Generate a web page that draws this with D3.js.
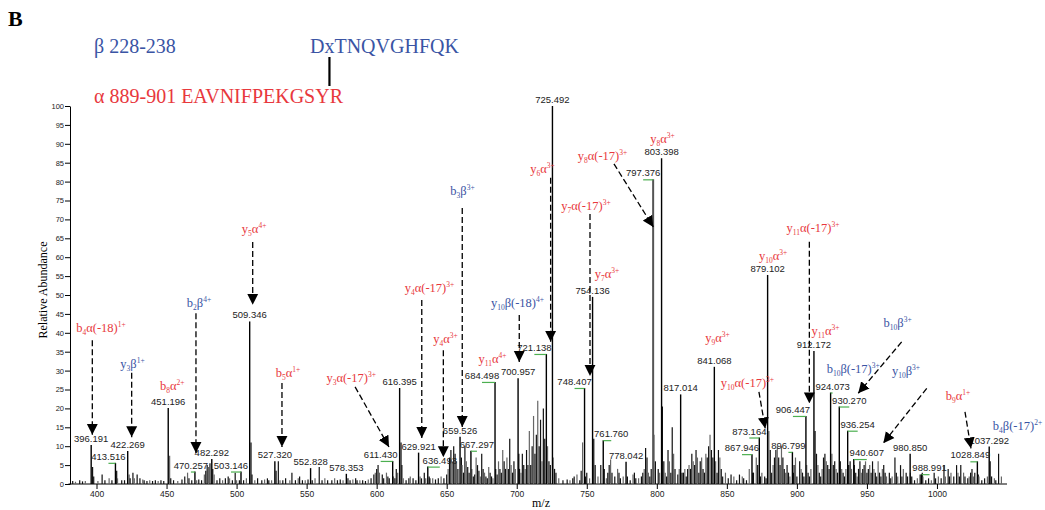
<!DOCTYPE html>
<html lang="en">
<head>
<meta charset="UTF-8">
<title>MS/MS spectrum</title>
<script src="https://d3js.org/d3.v7.min.js"></script>
<style>
  body { margin: 0; background: #fff; }
  .axis text { font-family: "Liberation Sans", Arial, sans-serif; fill: #222; }
  .axis path, .axis line { stroke: #000; }
</style>
</head>
<body>
<script>
    // labelled peaks (m/z, relative abundance)
    const peakMz = [396.191, 413.516, 422.269, 451.196, 470.257, 482.292, 503.146, 509.346, 527.320,
        552.828, 578.353, 611.430, 616.395, 629.921, 636.493, 659.526, 667.297, 684.498, 700.957,
        721.138, 725.492, 748.407, 754.136, 761.760, 778.042, 797.376, 803.398, 817.014, 841.068,
        867.946, 873.164, 879.102, 896.799, 906.447, 912.172, 924.073, 930.270, 936.254, 940.607,
        980.850, 988.991, 1028.849, 1037.292];
    const peakAbund = [10.3, 5.6, 8.7, 20.1, 3.3, 6.6, 3.3, 43, 6, 4.2, 2.7, 6.1, 25.4, 8.3, 4.6,
        12.5, 8.8, 27, 28, 34.4, 100, 25.4, 49.5, 11.6, 5.9, 80.6, 86.2, 23.7, 31, 7.9, 12.3,
        55.3, 8.5, 18, 35.2, 24.2, 20.5, 14.1, 6.6, 8, 2.6, 6, 9.9];

    // unlabelled peaks [m/z, relative abundance]
    const otherPeaks = [
        [383, 0.8], [385, 0.6], [388, 1], [390, 0.7], [392, 0.8], [397.2, 4.5], [398, 2], [401, 0.8],
        [404, 2.5], [406, 1], [409, 1.5], [411, 1], [414.4, 3.5], [415, 1.5], [418, 1], [420, 1],
        [423.3, 2.5], [424, 1.5], [426, 3], [427, 1.5], [429, 2.5], [431, 1.5], [433, 1.2], [434, 1],
        [436, 0.8], [438, 1], [440, 0.8], [442, 1], [444, 0.8], [446, 1], [448, 0.8],
        [452.2, 7.5], [453, 1.5], [455, 1], [458, 0.8], [461, 1.2], [463, 2], [465, 3], [466, 1.5],
        [468, 1], [471.5, 1], [473, 1.2], [475, 1], [477, 2.5], [478, 3.5], [479, 5], [480, 4.5],
        [481, 5.5], [483, 4], [484, 2.5], [486, 1], [488, 1.5], [490, 1], [492, 1.5], [494, 2],
        [495, 1.5], [497, 1], [499, 3], [500, 1], [502, 1], [505, 1], [507, 1.5], [510.3, 11],
        [511, 2.5], [513, 1], [515, 1.5], [518, 1], [520, 1.2], [522, 1.5], [523, 1], [525, 1],
        [528.2, 3.5], [529.8, 6], [531, 1], [533, 1], [535, 1.5], [538, 1], [539.5, 3], [542, 1],
        [544, 1.5], [545, 2], [547, 1], [549, 1], [551, 1.2], [554, 1], [556, 1.5], [559, 4.5],
        [561, 1], [563, 1.5], [565, 1], [568, 1], [570, 1.5], [572, 1], [574, 1.2], [576, 1],
        [579.5, 1.5], [581, 1], [583, 1.2], [585, 1.5], [586, 1], [588, 1], [590, 1], [592, 0.8],
        [594, 1.2], [596, 1.5], [598, 2.5], [599, 3], [600, 4], [601, 5], [602, 3], [604, 2.5],
        [605, 1.5], [607, 3], [608, 2], [609, 1.5], [612, 2], [613, 1.5], [614, 4], [615, 3],
        [617.4, 11], [618, 5], [619, 1.5], [621, 1], [623, 1.5], [624, 2], [626, 1.5], [628, 1],
        [631, 2], [632, 1.5], [634, 3], [635, 1.5], [637.5, 2], [638, 1.5], [640, 1.5], [642, 1.2],
        [644, 1.5], [646, 2], [648, 1.5], [650, 2.5], [651, 4], [652, 7], [653, 9], [654, 6],
        [655, 10], [656, 8], [657, 6], [658, 4], [660.5, 7], [661, 5], [662, 3], [663, 10],
        [664, 6], [665, 4.5], [666, 3], [668, 4], [669, 2], [670, 2.5], [671, 7], [672, 5],
        [673, 3.5], [674, 2], [675, 8], [676, 4], [677, 3], [678, 2], [679, 1.5], [680, 4.5],
        [681, 3], [682, 2], [683, 1.5], [685, 4], [686, 2.5], [687, 6], [688, 4], [689, 3],
        [690, 9], [691, 6], [692, 4], [693, 7], [694, 4], [695, 12], [696, 5], [697, 3], [698, 6],
        [699, 4], [701.5, 8], [702, 4], [703, 3], [704, 8], [705, 5], [706, 4], [707, 9], [708, 5],
        [709, 14], [710, 5], [711, 10], [712, 18], [713, 8], [714, 13], [715, 22], [716, 10],
        [717, 17], [718, 6], [719, 20], [720, 12], [722, 10], [723, 6], [724, 5], [726, 7],
        [727, 4], [728, 3], [730, 1.5], [733, 1], [736, 1.2], [738, 1], [740, 1.5], [741, 2],
        [743, 2.5], [745, 1], [746, 3.5], [747, 11], [749, 2], [750, 3], [752, 1.5], [755, 12],
        [756, 5], [758, 2], [760, 5], [762.5, 4], [764, 1.5], [765, 3], [766, 5], [767, 6.5],
        [768, 3], [770, 2], [772, 4], [773, 3], [774, 1.5], [776, 2], [779, 2], [781, 1],
        [783, 2.5], [784, 3], [785, 1.5], [787, 1.5], [789, 2], [790, 3], [791, 4], [792, 9.5],
        [793, 7], [794, 3], [795, 2], [796, 4], [798, 13], [799, 6], [801, 4], [802, 3],
        [804, 20.5], [805, 6], [806, 3], [807, 2], [808, 9], [809, 6], [810, 3], [811, 15],
        [812, 8], [813, 4], [815, 2.5], [816, 4], [818, 3], [819, 3], [820, 4], [821, 2], [822, 4],
        [823, 5], [824, 4], [825, 8], [826, 6], [827, 5], [828, 9], [829, 7], [830, 3], [831, 6],
        [832, 7], [833, 4], [834, 3], [835, 8], [836, 7], [837, 10], [838, 13], [839, 9],
        [840, 7], [842, 6], [843, 3], [844, 9], [845, 7], [846, 4], [847, 2], [849, 3],
        [851, 1.5], [853, 2.5], [855, 2], [857, 1], [859, 2.5], [861, 2], [862, 1.5], [864, 1],
        [866, 4], [868.5, 3], [869, 3], [871, 7], [872, 5], [874, 2], [875, 3], [877, 2],
        [878, 1.5], [880, 14], [881, 9], [882, 3], [883, 5], [884, 7], [885, 9], [886, 10],
        [887, 7], [888, 5], [889, 10], [890, 7], [891, 4], [892, 3], [893, 5], [894, 3], [895, 2],
        [897.5, 3], [898, 5], [899, 7], [900, 2], [902, 6], [903, 4], [904, 3], [905, 2],
        [907, 5], [908, 3], [909, 2], [910, 4], [913, 14], [914, 8], [915, 5], [916, 3], [917, 2],
        [918, 4], [919, 7], [920, 8], [921, 6], [922, 5], [923, 4], [925, 8], [926, 5], [927, 6],
        [928, 4], [929, 3], [931, 6], [932, 4], [933, 3], [934, 2], [935, 4], [937, 5], [938, 6],
        [939, 4], [941, 5], [942, 3], [943, 2], [944, 4], [945, 6], [946, 3], [947, 4], [948, 5],
        [949, 6], [950, 3], [951, 4], [952, 5], [953, 3], [954, 6], [955, 4], [956, 3], [957, 2],
        [958, 6], [959, 3], [960, 2], [961, 4], [962, 5], [963, 3], [964, 2], [966, 3],
        [967, 1.5], [968, 2], [970, 7], [971, 3], [972, 2], [974, 5], [975, 2], [976, 4],
        [978, 3], [979, 2], [981, 3], [982, 2], [984, 1], [986, 1.5], [988, 2.5], [989.5, 3],
        [990, 2], [992, 1], [994, 1.5], [996, 1], [998, 3], [999, 1.5], [1001, 2], [1003, 1.5],
        [1005, 5], [1006, 2], [1008, 4], [1009, 2], [1010, 3], [1012, 2], [1014, 5], [1015, 3],
        [1016, 2], [1017, 5], [1019, 3], [1020, 2], [1022, 1.5], [1023, 2], [1024, 3], [1025, 4],
        [1026, 2], [1027, 3], [1029.5, 2.5], [1030, 2], [1032, 1], [1034, 1.5], [1036, 2],
        [1038, 6], [1039, 2], [1041, 1.5], [1042, 1], [1044, 8], [1046, 2]
    ];

    // fragment ion annotations: name, chain, label position (m/z, abundance), arrow [m/z1, ab1, m/z2, ab2]
    const ionLabels = [
        ["b_4α(-18)^1+", "a", 403.2, 40.3, [397, 38, 397, 13]],
        ["y_3β^1+", "b", 425.7, 30.7, [425.1, 29.4, 425.1, 12.4]],
        ["b_8α^2+", "a", 454, 24.9, null],
        ["b_2β^4+", "b", 473.2, 46.8, [471, 45.2, 471, 8.2]],
        ["y_5α^4+", "a", 512.5, 66.4, [511.5, 64, 511.5, 47.4]],
        ["b_5α^1+", "a", 536.7, 28.3, [532.4, 26.7, 532.4, 9.8]],
        ["y_3α(-17)^3+", "a", 581.8, 27, [584.6, 25.7, 608.8, 9.8]],
        ["y_4α(-17)^3+", "a", 637.7, 50.8, [632.2, 48.7, 632.2, 12.2]],
        ["y_4α^3+", "a", 649.2, 37.3, [647.6, 35.4, 647.6, 7.1]],
        ["b_3β^3+", "b", 661.3, 76.5, [661.1, 73, 661.1, 15.1]],
        ["y_11α^4+", "a", 682.7, 32, null],
        ["y_10β(-18)^4+", "b", 700.5, 46.8, [701.8, 44.7, 701.8, 32.3]],
        ["y_6α^3+", "a", 718.4, 82.3, [724.2, 81, 724.2, 37.6]],
        ["y_7α(-17)^3+", "a", 749.4, 72.5, [752.3, 71.4, 752.3, 28.6]],
        ["y_7α^3+", "a", 764.4, 54.5, null],
        ["y_8α(-17)^3+", "a", 761.2, 85.7, [769.4, 84.7, 797.5, 68]],
        ["y_8α^3+", "a", 804, 90.2, null],
        ["y_9α^3+", "a", 843.3, 37.6, null],
        ["y_10α(-17)^3+", "a", 864.7, 25.7, [872.9, 24.4, 877.4, 14.7]],
        ["y_10α^3+", "a", 883, 59.3, null],
        ["y_11α(-17)^3+", "a", 911.5, 66.7, [908.9, 64.1, 908.9, 21.3]],
        ["y_11α^3+", "a", 920.4, 39.4, null],
        ["b_10β^3+", "b", 971.9, 41.6, [974.8, 37.6, 943.8, 24]],
        ["b_10β(-17)^3+", "b", 940.2, 29.3, null],
        ["y_10β^3+", "b", 977.9, 28.8, [992.7, 25.3, 961.7, 10.8]],
        ["b_9α^1+", "a", 1015, 22.2, [1020, 19.1, 1024.3, 9.4]],
        ["b_4β(-17)^2+", "b", 1057.5, 14.3, null]
    ];

    const xTicks = d3.range(400, 1001, 50);
    const yTicks = d3.range(0, 101, 5);

    // layout: horizontal shift (px) of peak labels drawn with a green leader
    const leaderOffset = {
        "413.516": -7, "470.257": -4, "503.146": -10, "611.430": -12, "636.493": 12,
        "667.297": 6, "684.498": -13, "721.138": -12, "748.407": -10, "761.760": 8,
        "797.376": -10, "867.946": -10, "873.164": -10, "896.799": -4, "906.447": -13,
        "924.073": 2, "930.270": 10, "936.254": 10, "940.607": 13, "988.991": 8, "1028.849": -7
    };

    const red = "#e8383d", blue = "#3a54a4";
    const serif = '"Liberation Serif", "Times New Roman", serif';
    const sans = '"Liberation Sans", Arial, sans-serif';

    const svg = d3.select("body").append("svg")
        .attr("width", 1045)
        .attr("height", 510);

    const x = d3.scaleLinear().domain([380, 1050]).range([68.5, 1007]);
    const y = d3.scaleLinear().domain([0, 100]).range([484, 106]);

    // arrow head
    svg.append("defs").append("marker")
        .attr("id", "arr")
        .attr("viewBox", "0 0 10 10")
        .attr("refX", 10).attr("refY", 5)
        .attr("markerWidth", 11).attr("markerHeight", 12)
        .attr("markerUnits", "userSpaceOnUse")
        .attr("orient", "auto")
        .append("path").attr("d", "M0,0L10,5L0,10z").attr("fill", "#000");

    // panel letter and peptide header
    svg.append("text").attr("x", 8).attr("y", 26)
        .attr("font-family", serif).attr("font-weight", "bold").attr("font-size", 22)
        .text("B");
    svg.append("text").attr("x", 94).attr("y", 53)
        .attr("font-family", serif).attr("font-size", 20).attr("fill", blue)
        .text("β 228-238");
    const betaSeq = svg.append("text").attr("x", 310).attr("y", 53)
        .attr("font-family", serif).attr("font-size", 20).attr("fill", blue)
        .text("DxTNQVGHFQK");
    svg.append("text").attr("x", 94).attr("y", 103)
        .attr("font-family", serif).attr("font-size", 20).attr("fill", red)
        .text("α 889-901 EAVNIFPEKGSYR");
    let linkX = 330;
    try {
        const ext = betaSeq.node().getExtentOfChar(1);
        linkX = ext.x + ext.width / 2;
    } catch (e) {}
    svg.append("line")
        .attr("x1", linkX).attr("x2", linkX).attr("y1", 57).attr("y2", 86)
        .attr("stroke", "#000").attr("stroke-width", 2.2);

    // axes
    const yAxis = svg.append("g").attr("class", "axis").attr("transform", "translate(70,0)");
    yAxis.call(d3.axisLeft(y).tickValues(d3.range(0, 101, 1)).tickSize(3).tickFormat(""));
    yAxis.call(d3.axisLeft(y).tickValues(yTicks).tickSize(5).tickSizeOuter(0).tickPadding(1));
    yAxis.selectAll("text").attr("font-size", 7.5).attr("font-family", sans);

    const xAxis = svg.append("g").attr("class", "axis").attr("transform", "translate(0,484)");
    xAxis.call(d3.axisBottom(x).tickValues(d3.range(385, 1050, 5)).tickSize(3).tickFormat(""));
    xAxis.call(d3.axisBottom(x).tickValues(xTicks).tickSize(5).tickSizeOuter(0).tickPadding(2)
        .tickFormat(d3.format("d")));
    xAxis.selectAll("text").attr("font-size", 8.5).attr("font-family", sans);
    xAxis.selectAll(".domain").attr("d", "M" + x(380) + ",0H" + x(1050));

    svg.append("text")
        .attr("transform", "translate(47,290) rotate(-90)")
        .attr("text-anchor", "middle")
        .attr("font-family", serif).attr("font-size", 12)
        .text("Relative Abundance");
    svg.append("text")
        .attr("x", 541).attr("y", 507)
        .attr("text-anchor", "middle")
        .attr("font-family", serif).attr("font-size", 12)
        .text("m/z");

    // background peaks
    svg.append("g").selectAll("line")
        .data(otherPeaks)
        .enter()
        .append("line")
        .attr("x1", d => x(d[0])).attr("x2", d => x(d[0]))
        .attr("y1", y(0)).attr("y2", d => y(d[1]))
        .attr("stroke", (d, i) => i % 3 === 1 ? "#666" : "#111")
        .attr("stroke-width", 1.2);

    // labelled peaks
    const peaks = peakMz.map((m, i) => ({ mz: m, ab: peakAbund[i] }));
    svg.append("g").selectAll("line")
        .data(peaks)
        .enter()
        .append("line")
        .attr("x1", d => x(d.mz)).attr("x2", d => x(d.mz))
        .attr("y1", y(0)).attr("y2", d => y(d.ab))
        .attr("stroke", d => d.ab > 75 && d.ab < 85 ? "#555" : "#000")
        .attr("stroke-width", d => d.ab > 75 && d.ab < 85 ? 2 : 1.4);

    const pl = svg.append("g");
    peaks.forEach(d => {
        const key = d.mz.toFixed(3);
        const off = leaderOffset[key] || 0;
        const px = x(d.mz), py = y(d.ab);
        if (leaderOffset[key] !== undefined) {
            pl.append("line")
                .attr("x1", px + off).attr("x2", px)
                .attr("y1", py + 0.5).attr("y2", py + 0.5)
                .attr("stroke", "#4caf50").attr("stroke-width", 1.2);
        }
        pl.append("text")
            .attr("x", px + off).attr("y", py - 3)
            .attr("text-anchor", "middle")
            .attr("font-family", sans).attr("font-size", 9.5).attr("fill", "#222")
            .text(key);
    });

    // ion annotations
    const ann = svg.append("g");
    ionLabels.forEach(d => {
        const parts = d[0].match(/^(\w)_(\d+)(.*)\^(.+)$/);
        const col = d[1] === "a" ? red : blue;
        const t = ann.append("text")
            .attr("x", x(d[2])).attr("y", y(d[3]))
            .attr("text-anchor", "middle")
            .attr("font-family", serif).attr("font-size", 12.5).attr("fill", col);
        t.append("tspan").text(parts[1]);
        t.append("tspan").attr("font-size", 7.5).attr("dy", 3).text(parts[2]);
        t.append("tspan").attr("dy", -3).text(parts[3]);
        t.append("tspan").attr("font-size", 7.5).attr("dy", -5).text(parts[4]);
        if (d[4]) {
            const a = d[4];
            ann.append("line")
                .attr("x1", x(a[0])).attr("y1", y(a[1]))
                .attr("x2", x(a[2])).attr("y2", y(a[3]))
                .attr("stroke", "#000").attr("stroke-width", 1.3)
                .attr("stroke-dasharray", "6,3")
                .attr("marker-end", "url(#arr)");
        }
    });
</script>
</body>
</html>
